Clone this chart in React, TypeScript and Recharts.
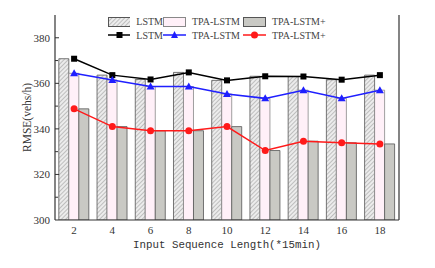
import { ComposedChart, Bar, Line, XAxis, YAxis, Legend } from 'recharts';

const categories = ['2', '4', '6', '8', '10', '12', '14', '16', '18'];
const lstm = [370.8, 363.6, 361.7, 364.8, 361.3, 363.1, 363.0, 361.6, 363.6];
const tpaLstm = [364.4, 361.5, 358.6, 358.6, 355.3, 353.4, 357.0, 353.4, 357.0];
const tpaLstmPlus = [348.8, 341.0, 339.2, 339.2, 341.0, 330.5, 334.6, 333.9, 333.4];
const yTicks = [300, 310, 320, 330, 340, 350, 360, 370, 380, 390];

const data = categories.map((c, i) => ({
  len: c,
  lstm: lstm[i],
  tpa: tpaLstm[i],
  tpaPlus: tpaLstmPlus[i],
}));

const PLOT_LEFT = 55;
const FRAME = '#333';
const SERIF = '"Liberation Serif", "Times New Roman", serif';

function YTick({ y, payload }: any) {
  const v = payload.value;
  const major = v % 20 === 0;
  return (
    <g>
      {v !== 300 && v !== 390 && (
        <line x1={PLOT_LEFT} x2={PLOT_LEFT + (major ? 4 : 3)} y1={y} y2={y} stroke={FRAME} />
      )}
      {major && (
        <text x={PLOT_LEFT - 5} y={y} dy={4} textAnchor="end" fontSize={11} fontFamily={SERIF} fill="#333">
          {v}
        </text>
      )}
    </g>
  );
}

function SquareDot({ cx, cy }: any) {
  return <rect x={cx - 3} y={cy - 3} width={6} height={6} fill="#000" />;
}

function TriangleDot({ cx, cy }: any) {
  return <path d={`M${cx},${cy - 4} L${cx + 4},${cy + 3} L${cx - 4},${cy + 3} Z`} fill="#1f1fff" />;
}

function CircleDot({ cx, cy }: any) {
  return <circle cx={cx} cy={cy} r={3.5} fill="#ff1a1a" />;
}

const barIcon: Record<string, any> = {
  lstm: { fill: 'url(#hatch)', stroke: '#555' },
  tpa: { fill: '#fff0f8', stroke: '#888' },
  tpaPlus: { fill: '#c9c9c4', stroke: '#555' },
};

function LegendIcon({ entry }: any) {
  if (entry.type === 'rect') {
    const s = barIcon[entry.dataKey];
    return (
      <svg width={23} height={10}>
        <rect x={0.5} y={0.5} width={22} height={9} fill={s.fill} stroke={s.stroke} />
      </svg>
    );
  }
  const c = entry.color;
  return (
    <svg width={23} height={10}>
      <line x1={0} x2={23} y1={5} y2={5} stroke={c} strokeWidth={1.5} />
      {entry.dataKey === 'lstm' && <rect x={8.5} y={2} width={6} height={6} fill={c} />}
      {entry.dataKey === 'tpa' && <path d="M11.5,1 L15,8 L8,8 Z" fill={c} />}
      {entry.dataKey === 'tpaPlus' && <circle cx={11.5} cy={5} r={3.5} fill={c} />}
    </svg>
  );
}

function LegendContent({ payload }: any) {
  const items = payload || [];
  const rows = [items.filter((e: any) => e.type === 'rect'), items.filter((e: any) => e.type !== 'rect')];
  const cols = [55, 80, 90];
  return (
    <div style={{ fontFamily: SERIF, fontSize: 10, color: '#444' }}>
      {rows.map((row: any[], r: number) => (
        <div key={r} style={{ display: 'flex', height: 13.5, alignItems: 'center' }}>
          {row.map((e: any, i: number) => (
            <div key={e.dataKey} style={{ width: cols[i], display: 'flex', alignItems: 'center' }}>
              <LegendIcon entry={e} />
              <span style={{ marginLeft: 6 }}>{e.value}</span>
            </div>
          ))}
        </div>
      ))}
    </div>
  );
}

export default function App() {
  return (
    <div style={{ position: 'absolute', left: 0, top: 0, width: 435, height: 268, background: '#fff' }}>
      <ComposedChart
        width={435}
        height={268}
        data={data}
        margin={{ top: 15, right: 35, bottom: 18, left: 25 }}
        barCategoryGap="10%"
        barGap={0}
      >
        <defs>
          <pattern id="hatch" width={3} height={3} patternUnits="userSpaceOnUse" patternTransform="rotate(45)">
            <rect width={3} height={3} fill="#ececec" />
            <line x1={0} y1={0} x2={0} y2={3} stroke="#777" strokeWidth={0.8} />
          </pattern>
        </defs>
        <XAxis
          dataKey="len"
          height={30}
          tickLine={false}
          axisLine={{ stroke: FRAME, strokeWidth: 1.2 }}
          tick={{ fontSize: 11, fontFamily: SERIF, fill: '#333' }}
          tickMargin={0}
          label={{
            value: 'Input Sequence Length(*15min)',
            position: 'insideBottom',
            offset: 2,
            fontSize: 10.8,
            fontFamily: '"Liberation Mono", monospace',
            fill: '#333',
          }}
        />
        <XAxis xAxisId="top" dataKey="len" orientation="top" height={0} tick={false} tickLine={false} axisLine={{ stroke: FRAME, strokeWidth: 1.2 }} />
        <YAxis
          domain={[300, 390]}
          ticks={yTicks}
          interval={0}
          width={30}
          tickLine={false}
          axisLine={{ stroke: FRAME, strokeWidth: 1.2 }}
          tick={<YTick />}
          allowDataOverflow
          label={{
            value: 'RMSE(vehs/h)',
            angle: -90,
            position: 'insideLeft',
            offset: 2,
            fontSize: 11.5,
            fontFamily: SERIF,
            fill: '#333',
            style: { textAnchor: 'middle' },
          }}
        />
        <YAxis yAxisId="right" orientation="right" width={1} domain={[300, 390]} tick={false} tickLine={false} axisLine={{ stroke: FRAME, strokeWidth: 1.2 }} />
        <Legend
          layout="horizontal"
          verticalAlign="middle"
          align="center"
          content={<LegendContent />}
          wrapperStyle={{ top: 15, left: 108, width: 260 }}
        />
        <Bar dataKey="lstm" name="LSTM" fill="url(#hatch)" stroke="#555" strokeWidth={0.8} legendType="rect" isAnimationActive={false} />
        <Bar dataKey="tpa" name="TPA-LSTM" fill="#fff0f8" stroke="#888" strokeWidth={0.8} legendType="rect" isAnimationActive={false} />
        <Bar dataKey="tpaPlus" name="TPA-LSTM+" fill="#c9c9c4" stroke="#555" strokeWidth={0.8} legendType="rect" isAnimationActive={false} />
        <Line dataKey="lstm" name="LSTM" stroke="#000" strokeWidth={1.5} dot={<SquareDot />} activeDot={false} legendType="line" isAnimationActive={false} />
        <Line dataKey="tpa" name="TPA-LSTM" stroke="#1f1fff" strokeWidth={1.5} dot={<TriangleDot />} activeDot={false} legendType="line" isAnimationActive={false} />
        <Line dataKey="tpaPlus" name="TPA-LSTM+" stroke="#ff1a1a" strokeWidth={1.5} dot={<CircleDot />} activeDot={false} legendType="line" isAnimationActive={false} />
      </ComposedChart>
    </div>
  );
}
